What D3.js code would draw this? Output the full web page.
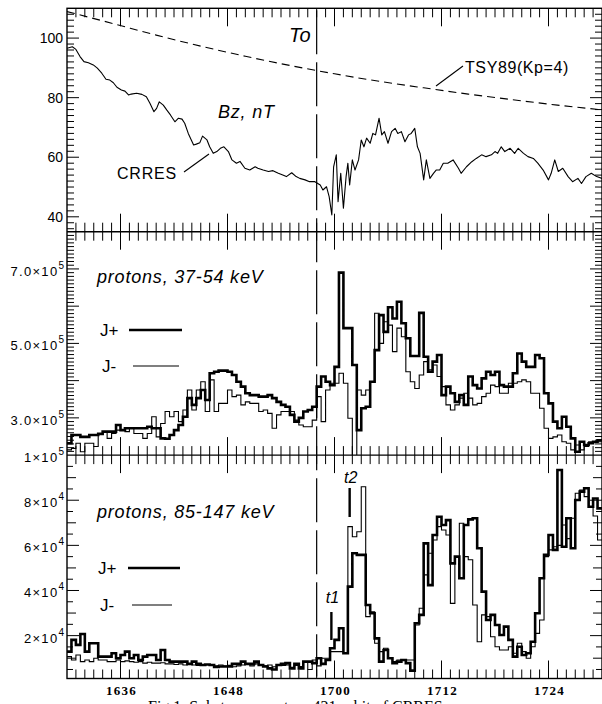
<!DOCTYPE html>
<html><head><meta charset="utf-8">
<script src="https://cdn.jsdelivr.net/npm/d3@7"></script>
<style>body{margin:0;background:#fff;} svg{display:block;}</style>
</head><body>
<svg id="chart" width="602" height="704"></svg>
<script>
// ---------- data ----------
const xTickMinutes = [6, 18, 30, 42, 54];          // minutes after 16:30
const xTickLabels  = ["1636", "1648", "1700", "1712", "1724"];
const onsetMinute = 28;                            // "To"
const eventMinutes = [29.65, 31.7];
const eventLabels  = ["t1", "t2"];

const crresMinutes = [0,0.6,1.0,1.46,1.9,2.4,2.95,3.4,3.9,4.37,4.8,5.2,5.6,6.1,6.5,6.9,7.2,7.8,8.4,8.9,9.3,9.75,10.05,10.35,10.8,11.2,11.6,12.1,12.5,12.9,13.2,13.6,14.2,14.5,14.9,15.2,15.7,16.0,16.4,16.8,17.2,17.6,18.1,18.5,19.0,19.4,19.95,20.5,21.1,21.4,22.0,22.6,23.1,23.7,24.2,24.6,25.2,25.7,26.1,26.7,27.2,27.8,28.4,28.7,29.1,29.4,29.7,29.9,30.2,30.4,30.7,31.0,31.3,31.5,31.7,32.0,32.3,32.7,33.0,33.3,33.6,34.0,34.3,34.6,35.0,35.3,35.6,36.0,36.4,36.8,37.1,37.5,37.9,38.3,38.6,39.0,39.3,39.6,40.0,40.3,40.7,41.1,41.4,41.8,42.2,42.7,43.3,43.9,44.2,44.8,45.4,45.9,46.5,47.0,47.6,48.0,48.3,48.7,49.1,49.7,50.2,50.6,51.2,51.7,52.3,52.8,53.4,54.0,54.3,54.7,55.1,55.6,56.2,56.7,57.3,57.7,58.2,58.8,59.4,60];
const crresBz = [96.6,97.1,96.2,93.8,92.1,91.7,91.0,89.9,88.2,86.2,85.9,85.0,83.5,82.6,82.2,80.9,81.2,81.5,81.1,80.3,78.1,75.3,76.4,78.6,77.5,75.8,74.2,71.9,73.1,72.8,71.4,68.0,64.1,64.4,64.9,67.1,65.8,63.5,61.3,61.9,63.0,63.5,61.9,59.1,58.0,58.6,56.3,55.7,56.8,56.3,55.7,55.2,55.5,54.6,54.0,53.5,54.8,53.5,52.9,52.4,51.8,51.8,50.7,49.0,50.1,46.8,40.6,56.8,60.8,45.1,54.6,42.9,53.5,58.0,50.7,59.1,55.7,59.1,65.8,63.5,66.4,64.7,68.0,67.5,73.1,67.5,68.6,64.7,68.6,69.7,68.0,68.6,65.2,67.5,68.0,69.7,63.5,61.3,52.4,59.1,52.9,54.6,55.7,55.7,58.0,58.0,59.1,56.3,54.6,56.8,58.5,59.6,60.8,60.2,60.8,61.9,61.3,63.5,61.9,63.0,61.3,63.0,61.3,60.2,59.6,58.0,55.7,52.4,54.6,59.1,55.2,56.3,53.5,51.8,52.9,51.2,53.5,54.6,53.5,52.9];

const tsyMinutes = [0,5,10,15,20,25,30,35,40,45,50,55,60];
const tsyBz = [108.9,105.0,101.0,97.3,93.9,90.8,88.0,85.5,83.3,81.2,79.3,77.5,75.9];

const binWidth = 0.5;   // minutes per flux sample
// protons 37-54 keV, units of 1e5
const lowJplus = [2.32,2.54,2.54,2.49,2.49,2.54,2.54,2.57,2.63,2.63,
 2.63,2.81,2.67,2.72,2.72,2.72,2.72,2.72,2.76,2.72,
 2.72,2.45,2.44,2.54,2.67,2.81,3.03,3.53,3.35,3.53,
 3.75,3.48,4.20,4.24,4.27,4.27,4.24,4.15,3.97,3.84,
 3.66,3.61,3.61,3.57,3.57,3.61,3.53,3.43,3.35,3.30,
 3.08,2.90,3.00,3.17,3.21,3.30,3.84,4.11,3.97,3.88,
 4.37,6.90,5.41,5.41,4.42,2.67,3.26,3.30,3.97,4.82,
 5.76,5.31,5.97,5.67,6.12,5.54,5.14,4.66,4.66,5.82,
 4.64,4.24,4.51,4.69,3.61,3.84,3.66,3.43,3.61,3.35,
 4.11,3.88,3.79,4.06,4.24,4.15,4.24,3.88,3.84,3.84,
 4.20,4.73,4.51,4.37,4.37,4.69,4.60,3.66,3.39,2.90,
 2.72,3.03,2.76,2.45,2.09,2.36,2.27,2.32,2.36,2.40];
const lowJminus = [2.14,2.18,2.32,2.09,2.32,2.32,2.23,2.58,2.63,2.45,
 2.58,2.67,2.67,2.63,2.72,2.58,2.58,2.45,2.58,3.03,
 2.49,2.85,3.17,3.03,3.17,2.90,3.21,3.75,3.21,3.75,
 3.97,3.17,4.02,3.17,3.39,3.39,3.75,3.57,3.61,3.35,
 3.43,3.39,3.39,3.17,3.21,3.12,2.72,3.08,3.17,3.17,
 3.17,2.94,2.81,2.76,2.76,2.94,3.57,2.90,3.75,3.93,
 3.93,4.20,3.93,2.99,1.95,3.75,3.61,3.75,3.97,5.81,
 5.00,5.58,5.49,4.78,5.41,5.18,4.24,3.97,3.79,4.15,
 4.51,4.29,4.42,4.11,3.84,3.35,3.21,3.35,3.53,3.66,
 3.53,3.35,3.39,3.57,3.66,3.88,3.84,3.66,3.66,3.93,
 3.93,3.97,4.02,3.97,3.66,3.66,3.26,2.72,2.45,2.49,
 2.54,2.36,2.32,2.14,2.27,2.14,2.23,2.36,2.36,2.36];
// protons 85-147 keV, units of 1e4
const highJplus = [1.29,1.81,1.59,2.07,1.29,1.66,1.66,1.07,1.07,1.07,
 1.22,1.00,1.14,1.29,1.00,1.14,0.92,1.07,1.14,1.14,
 0.92,1.36,0.92,0.85,0.85,0.85,0.85,0.75,0.85,0.75,
 0.70,0.72,0.70,0.61,0.63,0.63,0.63,0.75,0.75,0.85,
 0.75,0.75,0.85,0.70,0.63,0.55,0.50,0.70,0.75,0.78,
 0.55,0.75,0.55,0.85,0.85,0.78,1.00,0.75,0.92,1.44,
 1.81,2.33,1.22,4.17,5.65,5.58,5.58,3.36,2.99,1.88,
 0.85,1.36,1.00,0.78,0.85,0.92,0.78,0.45,2.55,2.92,
 6.09,4.24,6.46,7.27,6.90,7.12,5.20,5.50,4.54,6.90,
 7.15,7.20,5.87,3.95,2.69,2.92,2.47,2.03,2.40,1.81,
 1.07,1.51,1.14,1.22,1.73,2.99,4.54,5.58,6.46,5.80,
 9.34,5.94,7.20,5.87,8.01,8.38,8.53,7.71,8.08,7.64];
const highJminus = [1.07,0.92,1.14,0.85,0.92,0.85,1.00,0.92,0.92,0.85,
 0.85,0.92,0.85,0.88,0.85,0.82,0.85,0.78,0.82,0.78,
 0.78,0.80,0.75,0.75,0.72,0.75,0.70,0.72,0.70,0.68,
 0.70,0.72,0.68,0.66,0.70,0.65,0.68,0.62,0.66,0.70,
 0.72,0.66,0.75,0.72,0.66,0.70,0.62,0.72,0.68,0.70,
 0.60,0.68,0.63,0.85,0.50,0.92,0.66,1.00,1.00,1.29,
 1.29,1.29,1.22,6.83,6.38,6.60,8.60,2.84,3.06,1.66,
 1.29,1.44,1.00,0.85,0.92,0.92,0.92,0.92,2.47,3.21,
 4.69,5.65,6.24,6.83,6.68,6.46,3.43,5.50,6.98,5.50,
 5.36,3.36,1.73,2.92,2.84,1.95,1.51,1.36,1.36,1.51,
 1.22,1.66,1.29,1.00,1.51,2.10,2.69,5.50,5.80,5.94,
 6.00,6.90,6.30,7.20,8.31,8.45,8.16,7.71,7.30,6.24];

const topYLabels = [40, 60, 80, 100];
const midYLabelValues = [3e5, 5e5, 7e5];
const midYLabelText = [["3.0×10","5"],["5.0×10","5"],["7.0×10","5"]];
const botYLabelValues = [2e4, 4e4, 6e4, 8e4, 1e5];
const botYLabelText = [["2×10","4"],["4×10","4"],["6×10","4"],["8×10","4"],["1×10","5"]];

// ---------- layout ----------
const svg = d3.select("#chart");
const L = 67, R = 602;
const tops = [8.3, 231.7, 455.1], PH = 223.4;
const x = d3.scaleLinear([0, 60], [L, R]);
const yTop = d3.scaleLinear([35, 110], [tops[0] + PH, tops[0]]);
const yMid = d3.scaleLinear([2e5, 8e5], [tops[1] + PH, tops[1]]);
const yBot = d3.scaleLinear([1e3, 1e5], [tops[2] + PH, tops[2]]);
const SANS = "'Liberation Sans', Arial, Helvetica, sans-serif";
const SERIF = "'Liberation Serif', 'Times New Roman', serif";

const defs = svg.append("defs");
tops.forEach((t, i) => {
  defs.append("clipPath").attr("id", "clip" + i)
    .append("rect").attr("x", L).attr("y", t).attr("width", R - L).attr("height", PH);
});

// ---------- top panel ----------
const gTop = svg.append("g").attr("clip-path", "url(#clip0)");
gTop.append("path")
  .datum(tsyMinutes.map((m, i) => [m, tsyBz[i]]))
  .attr("fill", "none").attr("stroke", "#000").attr("stroke-width", 1.1)
  .attr("stroke-dasharray", "8,5")
  .attr("d", d3.line().x(d => x(d[0])).y(d => yTop(d[1])).curve(d3.curveMonotoneX));
gTop.append("path")
  .datum(crresMinutes.map((m, i) => [m, crresBz[i]]))
  .attr("fill", "none").attr("stroke", "#000").attr("stroke-width", 1.1)
  .attr("stroke-linejoin", "round")
  .attr("d", d3.line().x(d => x(d[0])).y(d => yTop(d[1])));

// ---------- flux panels ----------
function stepPath(values, scale, unit) {
  const pts = values.map((v, i) => [i * binWidth, v * unit]);
  pts.push([values.length * binWidth, values[values.length - 1] * unit]);
  return d3.line().x(d => x(d[0])).y(d => scale(d[1])).curve(d3.curveStepAfter)(pts);
}
const gMid = svg.append("g").attr("clip-path", "url(#clip1)");
gMid.append("path").attr("d", stepPath(lowJminus, yMid, 1e5))
  .attr("fill", "none").attr("stroke", "#000").attr("stroke-width", 1.1);
gMid.append("path").attr("d", stepPath(lowJplus, yMid, 1e5))
  .attr("fill", "none").attr("stroke", "#000").attr("stroke-width", 2.6);
const gBot = svg.append("g").attr("clip-path", "url(#clip2)");
gBot.append("path").attr("d", stepPath(highJminus, yBot, 1e4))
  .attr("fill", "none").attr("stroke", "#000").attr("stroke-width", 1.1);
gBot.append("path").attr("d", stepPath(highJplus, yBot, 1e4))
  .attr("fill", "none").attr("stroke", "#000").attr("stroke-width", 2.6);

// ---------- onset line ----------
svg.append("line")
  .attr("x1", x(onsetMinute)).attr("x2", x(onsetMinute))
  .attr("y1", tops[0] + 2).attr("y2", tops[2] + PH - 2)
  .attr("stroke", "#000").attr("stroke-width", 1.2).attr("stroke-dasharray", "44,8");

// ---------- frame & ticks ----------
const axisG = svg.append("g").attr("stroke", "#000");
axisG.append("rect").attr("x", L).attr("y", tops[0]).attr("width", R - L).attr("height", PH * 3)
  .attr("fill", "none").attr("stroke-width", 1.4);
tops.slice(1).forEach(t => axisG.append("line").attr("x1", L).attr("x2", R).attr("y1", t).attr("y2", t).attr("stroke-width", 1.4));

const minuteTicks = d3.range(1, 60);
tops.forEach(t => {
  minuteTicks.forEach(m => {
    const len = xTickMinutes.includes(m) ? 18 : 9;
    axisG.append("line").attr("x1", x(m)).attr("x2", x(m)).attr("y1", t).attr("y2", t + len).attr("stroke-width", 1);
    axisG.append("line").attr("x1", x(m)).attr("x2", x(m)).attr("y1", t + PH).attr("y2", t + PH - len).attr("stroke-width", 1);
  });
});
function yTicks(values, scale, lenFn) {
  values.forEach(v => {
    const y = scale(v), len = lenFn(v);
    axisG.append("line").attr("x1", L).attr("x2", L + len).attr("y1", y).attr("y2", y).attr("stroke-width", 1);
    axisG.append("line").attr("x1", R - len).attr("x2", R).attr("y1", y).attr("y2", y).attr("stroke-width", 1);
  });
}
yTicks(d3.range(36, 110, 2), yTop, v => v % 20 === 0 ? 12 : 7);
yTicks(d3.range(21, 80).map(k => k * 1e4), yMid, v => Math.round(v / 1e4) % 10 === 0 ? 12 : 7);
yTicks(d3.range(1, 20).map(k => k * 5e3), yBot, v => {
  const k = Math.round(v / 5e3);
  return k % 4 === 0 ? 12 : (k % 2 === 0 ? 9 : 6);
});

// ---------- axis labels ----------
const txt = svg.append("g").attr("fill", "#000");
topYLabels.forEach(v => {
  txt.append("text").attr("x", 63).attr("y", yTop(v) + 5).attr("text-anchor", "end")
    .attr("font-family", SANS).attr("font-size", 14).text(v);
});
function sciLabel(v, scale, parts) {
  const t = txt.append("text").attr("x", 64).attr("y", scale(v) + 7).attr("text-anchor", "end")
    .attr("font-family", SANS).attr("font-size", 13).attr("letter-spacing", 1.3);
  t.append("tspan").text(parts[0]);
  t.append("tspan").attr("dy", -7).attr("font-size", 10).attr("letter-spacing", 0).text(parts[1]);
}
midYLabelValues.forEach((v, i) => sciLabel(v, yMid, midYLabelText[i]));
botYLabelValues.forEach((v, i) => sciLabel(v, yBot, botYLabelText[i]));

xTickMinutes.forEach((m, i) => {
  txt.append("text").attr("x", x(m) + 1).attr("y", 695).attr("text-anchor", "middle")
    .attr("font-family", SERIF).attr("font-size", 13).attr("letter-spacing", 1.2)
    .attr("font-weight", "bold").text(xTickLabels[i]);
});

// ---------- annotations ----------
txt.append("text").attr("x", 289).attr("y", 42).attr("font-family", SANS).attr("font-style", "italic")
  .attr("font-size", 20).text("To");
txt.append("text").attr("x", 218).attr("y", 118).attr("font-family", SANS).attr("font-style", "italic")
  .attr("font-size", 18).attr("letter-spacing", 0.8).text("Bz, nT");
txt.append("text").attr("x", 117).attr("y", 179).attr("font-family", SANS)
  .attr("font-size", 16).attr("letter-spacing", 0.8).text("CRRES");
svg.append("line").attr("x1", 184).attr("y1", 172).attr("x2", 209).attr("y2", 154).attr("stroke", "#000").attr("stroke-width", 1.1);
txt.append("text").attr("x", 465).attr("y", 73).attr("font-family", SANS)
  .attr("font-size", 16).attr("letter-spacing", 0.6).text("TSY89(Kp=4)");
svg.append("line").attr("x1", 436).attr("y1", 86).attr("x2", 463).attr("y2", 66).attr("stroke", "#000").attr("stroke-width", 1.1);

txt.append("text").attr("x", 97).attr("y", 283).attr("font-family", SANS).attr("font-style", "italic")
  .attr("font-size", 18).attr("letter-spacing", 0.8).text("protons, 37-54 keV");
txt.append("text").attr("x", 97).attr("y", 518).attr("font-family", SANS).attr("font-style", "italic")
  .attr("font-size", 18).attr("letter-spacing", 0.8).text("protons, 85-147 keV");

function legend(xText, yPlus, yMinus, lineX1, lineX2p, lineX2m) {
  txt.append("text").attr("x", xText).attr("y", yPlus + 6).attr("font-family", SANS).attr("font-size", 17).text("J+");
  svg.append("line").attr("x1", lineX1).attr("x2", lineX2p).attr("y1", yPlus).attr("y2", yPlus)
    .attr("stroke", "#000").attr("stroke-width", 2.6);
  txt.append("text").attr("x", xText + 2).attr("y", yMinus + 6).attr("font-family", SANS).attr("font-size", 17).text("J-");
  svg.append("line").attr("x1", lineX1 + 4).attr("x2", lineX2m).attr("y1", yMinus).attr("y2", yMinus)
    .attr("stroke", "#000").attr("stroke-width", 1.1);
}
legend(100, 330, 366, 129, 182, 179);
legend(98, 568, 605, 128, 180, 172);

// t1, t2 markers
const markerY = [[612, 640, 603], [488, 517, 483]];
eventMinutes.forEach((m, i) => {
  svg.append("line").attr("x1", x(m)).attr("x2", x(m)).attr("y1", markerY[i][0]).attr("y2", markerY[i][1])
    .attr("stroke", "#000").attr("stroke-width", 2.4);
  txt.append("text").attr("x", x(m) + 1).attr("y", markerY[i][2]).attr("text-anchor", "middle")
    .attr("font-family", SANS).attr("font-style", "italic").attr("font-size", 16).text(eventLabels[i]);
});

// caption (cut by the page edge, as in the source)
txt.append("text").attr("x", 148).attr("y", 712).attr("font-family", SERIF).attr("font-size", 16)
  .text("Fig.1. Substorm onset on 421 orbit of CRRES");
</script>
</body></html>
